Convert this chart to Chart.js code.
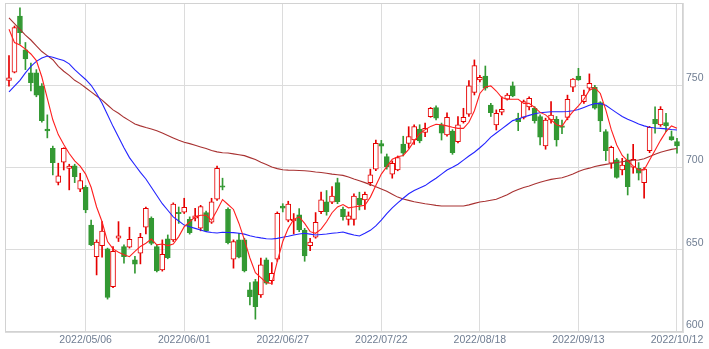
<!DOCTYPE html>
<html>
<head>
<meta charset="utf-8">
<script src="https://cdn.jsdelivr.net/npm/chart.js@4/dist/chart.umd.min.js"></script>
<style>
  html, body { margin: 0; padding: 0; background: #fff; }
  #wrap { width: 709px; height: 349px; }
</style>
</head>
<body>
<div id="wrap"><canvas id="priceChart" width="709" height="349"></canvas></div>
<script>
// session index of each labelled date (gridlines)
const tickDays = [14, 32, 50, 68, 86, 104, 122];
const tickLabels = ["2022/05/06", "2022/06/01", "2022/06/27", "2022/07/22", "2022/08/18", "2022/09/13", "2022/10/12"];

// daily OHLC, oldest first
const opens = [
  753, 758, 792, 771.5, 757.5, 757.5, 749.5, 723.3, 711.7, 691,
  703.2, 699.5, 701, 686.8, 688, 665, 645.8, 652.5, 650.5, 627.6,
  657, 651.9, 651.5, 643.8, 647.9, 663.7, 669.1, 651.9, 637.7, 656.6,
  656, 672.8, 672.8, 668.5, 669.2, 663.1, 672.6, 666.7, 680.7, 688.8,
  674.6, 644.3, 656, 656, 625.6, 630.6, 622.5, 643.8, 631.2, 644.2,
  676.5, 668, 667.5, 671.2, 662, 652.5, 657.6, 673.2, 679.2, 678.9,
  690.8, 674.5, 668.5, 668.5, 681.3, 680.3, 690.8, 699, 714.5, 706.6,
  696, 698.5, 714.3, 714.7, 716.7, 723.4, 721.4, 730.9, 736.4, 725.9,
  719.8, 722.2, 715.7, 727.9, 732.4, 745.7, 753.2, 755.6, 738, 725.9,
  733.6, 741.5, 749.6, 729.9, 730.5, 736.9, 736, 731, 713.1, 728.9,
  729.3, 725.3, 730.5, 748.8, 755.6, 740, 748.2, 748.8, 739.4, 721.8,
  702.6, 704.6, 698.5, 704.6, 700.2, 699.5, 690.8, 710.3, 729.3, 725.9,
  727.3, 718.8, 715.7
];
const highs = [
  768, 786, 797, 776, 763.5, 759.5, 751, 732, 713, 702.6,
  712, 702, 702, 696.5, 689, 668, 656, 667.1, 651, 652,
  667.1, 653, 663.7, 646, 660, 676, 670, 653, 656, 659,
  678.5, 676, 681.3, 670, 675.2, 677, 673.5, 681.3, 700.9, 693.5,
  675.5, 656, 660, 657, 630, 632, 645, 645, 642.2, 673,
  678, 679.5, 672, 675, 663, 657, 672.6, 685, 686, 688.4,
  693.5, 676, 673, 684, 685, 685, 699, 716.7, 716.5, 708.2,
  704, 707, 719, 724.8, 726, 726, 727, 736.5, 737.5, 727,
  733.3, 723, 730.9, 736, 752.8, 765.4, 756, 761.7, 739, 735,
  743, 745, 752, 733, 741, 743, 737, 732, 730, 740,
  731, 728.9, 744, 754, 760.3, 747, 756.9, 750, 740, 723,
  713, 705.5, 705.6, 708.2, 714.1, 703, 700, 725, 736.9, 737,
  733, 722.2, 717.8
];
const lows = [
  749.5, 757.5, 775, 759.5, 746.5, 743, 727.5, 718, 695.5, 689.4,
  698.5, 686.4, 690.8, 685.3, 672.5, 652.5, 634.7, 645.5, 620, 627,
  655, 641.8, 651, 635.7, 641.4, 659.6, 653, 636.5, 637, 644.5,
  655, 666, 672, 659.5, 667.5, 661.5, 661, 666, 680, 686.4,
  653.5, 638.8, 645, 636.5, 616.5, 607.8, 621, 629, 629, 643,
  673, 667, 659.6, 661, 643, 649.5, 657, 672, 671, 678,
  678, 668, 665, 665, 674.2, 674.5, 689, 698, 708.7, 699,
  693.5, 698, 707, 711.7, 714, 715, 718.8, 730.5, 729, 716.7,
  719, 708, 715, 727, 731, 744.1, 752, 747, 731, 722.8,
  732, 741, 743, 722.4, 729.5, 735, 727, 713.7, 711.1, 727,
  713, 720.6, 729, 746.1, 753, 739, 747, 735.5, 721.8, 704.2,
  699.5, 693.5, 695.5, 683.3, 696.5, 692.4, 681.3, 709, 720.8, 725,
  721.8, 716.5, 708.7
];
const closes = [
  754.5, 785, 782, 766, 751.5, 744, 728.5, 722.3, 703, 695,
  711.7, 700.9, 694.5, 692, 674.2, 653, 654.6, 661.4, 621, 649,
  658.4, 645.8, 656.4, 641.2, 657.6, 675.2, 653.9, 637.1, 647.2, 645.2,
  677.7, 672, 675.8, 660.4, 670.6, 676.2, 661.6, 679.2, 699.5, 688,
  654.3, 655, 645.5, 637.1, 621.5, 615.4, 640.8, 629.7, 635.7, 672.2,
  675.3, 677.8, 668.7, 662, 646.2, 654.6, 666.7, 680.3, 673.2, 682.7,
  679.2, 670.1, 670.6, 682.7, 677.2, 683.7, 695.5, 714.7, 713, 700.5,
  702.6, 706, 708.7, 718.8, 724.8, 716.1, 723.8, 736, 730, 720.8,
  730.5, 709, 725.9, 730.5, 749.7, 761.9, 754.8, 748.2, 733.3, 733,
  735.4, 744.1, 743.5, 727.9, 740, 742, 728.5, 718.4, 728.9, 731.9,
  716.7, 724.3, 741.5, 753.8, 753.2, 744.1, 751.2, 736, 728.3, 710.3,
  712.3, 694, 701.5, 688.4, 705, 696.5, 699, 724.4, 726.5, 735.4,
  725.3, 716.7, 713.1
];

// moving averages (5, 25, 75 sessions)
const ma5 = [
  784, 776, 774.5, 772, 769, 765, 755, 742, 729, 720,
  714, 708.5, 704, 700.8, 696, 688, 676, 667, 655, 650.5,
  648.5, 647, 645.8, 649, 652, 654, 656.5, 653, 653.5, 652.5,
  653.5, 658, 664, 667, 670, 671, 671, 668, 674, 680.5,
  677.5, 674.5, 666, 656, 645, 636, 633, 630, 629.5, 643,
  655, 663, 668.5, 670, 666, 661, 660, 662.5, 667, 672.5,
  676, 677.5, 675.5, 676, 676.5, 677, 682, 689, 696, 700.5,
  705, 706.5, 707.3, 711, 716, 720.5, 723, 725, 726.3, 726,
  725.3, 724.5, 723.8, 723.8, 727.5, 734.5, 745, 749, 749.6, 746.5,
  742.5, 741.5, 741.5, 741.5, 739, 739, 736.5, 733.5, 732, 729,
  726, 725, 730, 734, 737.5, 741.5, 747, 748.5, 745, 735,
  723, 713.7, 707.3, 704, 701, 698.5, 698.5, 704.5, 710.5, 716.5,
  721.8, 725.3, 723.8
];
const ma25 = [
  746, 749.5, 753, 757.5, 761.5, 764.5, 766.5, 767.8, 767, 766,
  765, 763, 759.5, 756.5, 753.5, 750, 745, 739, 732, 725,
  718.5, 712, 706, 701.5, 697, 693, 688, 683, 678, 674,
  670, 667.5, 665, 664, 663, 662, 661, 660.5, 660.2, 660.6,
  660.5, 660.4, 660, 659.5, 658.5, 657.8, 657.2, 656.7, 656.5, 656.9,
  657.6, 658.2, 659, 659.6, 660, 659.5, 659, 659.3, 659.6, 660,
  660.3, 660.8, 659.8, 659, 658.4, 660, 661.8, 664.5, 668, 672,
  675.5, 678.5, 681.3, 684, 686, 687.5, 689, 691.3, 693.5, 696,
  698.5, 700.2, 702, 704.5, 707, 709.3, 712, 715, 718.5, 721,
  723.5, 726, 728.5, 729.5, 730.7, 731.7, 732.7, 733.3, 733.6, 733.9,
  733.9, 733.9, 734, 734.5, 735.2, 736.5, 737.8, 738.8, 738.8, 737.8,
  735.5, 733.2, 731, 729.3, 728, 726.5, 725.3, 724.5, 724, 723.8,
  723.5, 723.1, 722.8
];
const ma75 = [
  791, 787.5, 784, 780.5, 777.5, 774, 770.5, 768, 765.5, 761.5,
  758.5, 756, 753, 751, 748.5, 746, 743.5, 741, 738, 735,
  733, 730.5, 728.5, 726.5, 725.3, 724.3, 723.4, 722.3, 721, 719.5,
  718, 716.5, 715.3, 714.5, 713.5, 712.5, 711.5, 710.3, 709.5, 709,
  708.8, 708.3, 707.8, 707.2, 706, 704.8, 703.2, 701.8, 700.3, 699.3,
  698.6, 698.4, 698.3, 698.2, 698, 697.7, 697.3, 697, 696.5, 696,
  695.6, 695.2, 694.2, 693, 692, 690.8, 689.6, 688.3, 687, 685.5,
  683.8, 682, 680.8, 680, 679.2, 678.6, 678, 677.5, 677, 676.6,
  676.6, 676.6, 676.6, 676.6, 677.3, 678.2, 679, 679.5, 680.1, 680.7,
  682, 683.5, 685.2, 686.6, 687.8, 688.8, 690, 691, 692, 692.8,
  693.3, 693.8, 694.8, 696, 697.6, 698.8, 699.6, 700.6, 701.3, 701.9,
  702.4, 703, 703.5, 704, 704.4, 704.6, 705.3, 706.7, 708, 709.3,
  710.2, 711, 711.6
];

const UP = "#e60000";
const DOWN = "#339933";
const AXIS_TEXT = "#6f7d92";
const GRID = "#dcdcdc";

const isUp = opens.map((o, i) => closes[i] >= o);
const points = arr => arr.map((v, i) => ({ x: i, y: v }));

// thin frame round the plot area
const plotFrame = {
  id: "plotFrame",
  beforeDatasetsDraw(chart) {
    const { ctx, chartArea: a } = chart;
    ctx.save();
    ctx.strokeStyle = "#d2d2d2";
    ctx.lineWidth = 1;
    ctx.strokeRect(Math.round(a.left) + 0.5, Math.round(a.top) + 0.5,
      Math.round(a.width) - 1, Math.round(a.height) - 1);
    ctx.restore();
  }
};

// keep the plot area flush with the layout padding
const noScalePadding = scale => {
  scale.paddingTop = 0;
  scale.paddingBottom = 0;
  scale.paddingLeft = 0;
  scale.paddingRight = 0;
};

const ctx = document.getElementById("priceChart").getContext("2d");

new Chart(ctx, {
  type: "bar",
  data: {
    datasets: [
      {
        type: "line",
        label: "MA5",
        data: points(ma5),
        borderColor: "#ff1f1f",
        borderWidth: 1.1,
        pointRadius: 0,
        tension: 0,
        order: 0
      },
      {
        type: "line",
        label: "MA25",
        data: points(ma25),
        borderColor: "#2323ff",
        borderWidth: 1.1,
        pointRadius: 0,
        tension: 0,
        order: 0
      },
      {
        type: "line",
        label: "MA75",
        data: points(ma75),
        borderColor: "#a83232",
        borderWidth: 1.1,
        pointRadius: 0,
        tension: 0,
        order: 0
      },
      {
        label: "body",
        data: opens.map((o, i) => ({ x: i, y: [o, closes[i]] })),
        backgroundColor: isUp.map(u => (u ? "#ffffff" : DOWN)),
        borderColor: isUp.map(u => (u ? UP : DOWN)),
        borderWidth: 1,
        borderSkipped: false,
        barThickness: 5,
        grouped: false,
        order: 1
      },
      {
        label: "wick",
        data: lows.map((l, i) => ({ x: i, y: [l, highs[i]] })),
        backgroundColor: isUp.map(u => (u ? UP : DOWN)),
        borderWidth: 0,
        barThickness: 1,
        grouped: false,
        order: 2
      }
    ]
  },
  options: {
    responsive: false,
    animation: false,
    events: [],
    layout: { padding: { left: 5, top: 3, right: 0, bottom: 0 } },
    plugins: {
      legend: { display: false },
      tooltip: { enabled: false }
    },
    scales: {
      x: {
        type: "linear",
        min: -0.73,
        max: 123.1,
        offset: false,
        afterBuildTicks: scale => {
          scale.ticks = tickDays.map(v => ({ value: v }));
        },
        afterFit: scale => {
          scale.height = 17;
          noScalePadding(scale);
        },
        ticks: {
          autoSkip: false,
          maxRotation: 0,
          padding: 2,
          color: AXIS_TEXT,
          font: { family: "Liberation Sans", size: 10.5 },
          callback: v => tickLabels[tickDays.indexOf(v)]
        },
        grid: { color: GRID, drawTicks: false, offset: false },
        border: { color: GRID }
      },
      y: {
        type: "linear",
        position: "right",
        min: 600,
        max: 800,
        afterFit: scale => {
          scale.width = 26;
          noScalePadding(scale);
        },
        ticks: {
          stepSize: 50,
          padding: 3,
          labelOffset: -7,
          color: AXIS_TEXT,
          font: { family: "Liberation Sans", size: 10.5 },
          callback: v => (v === 800 ? "" : v)
        },
        grid: { color: GRID, drawTicks: false },
        border: { color: GRID }
      }
    }
  },
  plugins: [plotFrame]
});
</script>
</body>
</html>
